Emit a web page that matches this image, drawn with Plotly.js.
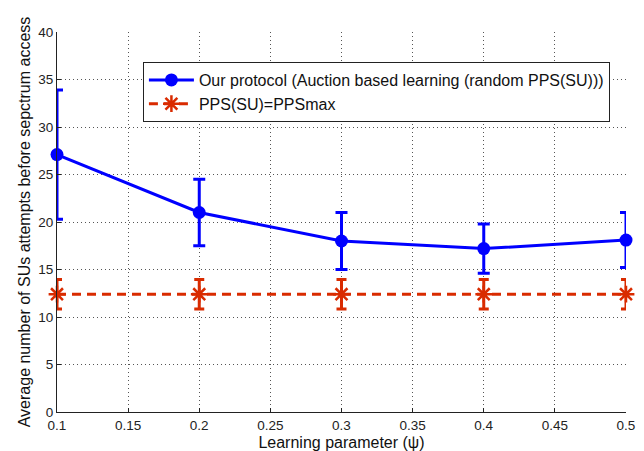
<!DOCTYPE html>
<html>
<head>
<meta charset="utf-8">
<script src="https://cdn.plot.ly/plotly-3.0.1.min.js"></script>
<style>
  html, body { margin: 0; padding: 0; background: #fff; }
  #chart { width: 644px; height: 451px; }
</style>
</head>
<body>
<div id="chart"></div>
<script>
// Learning parameter values (x axis)
const psi = [0.1, 0.2, 0.3, 0.4, 0.5];

// Auction based learning: mean attempts and error half-widths
const auctionMean = [27.1, 21.0, 18.0, 17.2, 18.1];
const auctionErr  = [6.8, 3.5, 3.0, 2.6, 2.9];

// Fixed PPS(SU)=PPSmax: mean attempts and error half-widths
const maxMean = [12.4, 12.4, 12.4, 12.4, 12.4];
const maxErr  = [1.55, 1.55, 1.55, 1.55, 1.55];

const xTicks = [0.1, 0.15, 0.2, 0.25, 0.3, 0.35, 0.4, 0.45, 0.5];
const xTickText = ['0.1', '0.15', '0.2', '0.25', '0.3', '0.35', '0.4', '0.45', '0.5'];
const yTicks = [0, 5, 10, 15, 20, 25, 30, 35, 40];

const BLUE = '#0000ff';
const RED = '#d92b00';
const FONT = 'Liberation Sans, Arial, sans-serif';

const traces = [
  {
    x: psi, y: auctionMean, type: 'scatter', mode: 'lines+markers',
    name: 'Our protocol (Auction based learning (random PPS(SU)))',
    line: { color: BLUE, width: 3 },
    marker: { color: BLUE, size: 13, symbol: 'circle' },
    error_y: { type: 'data', array: auctionErr, visible: true, color: BLUE, thickness: 3, width: 6 },
    cliponaxis: false
  },
  {
    x: psi, y: maxMean, type: 'scatter', mode: 'lines+markers',
    name: 'PPS(SU)=PPSmax',
    line: { color: RED, width: 3, dash: '9px,6px' },
    marker: { color: RED, size: 14, symbol: 'asterisk-open', line: { color: RED, width: 2.5 } },
    error_y: { type: 'data', array: maxErr, visible: true, color: RED, thickness: 3, width: 5 },
    cliponaxis: false
  }
];

const layout = {
  width: 644, height: 451,
  margin: { l: 57, r: 18, t: 32, b: 39 },
  paper_bgcolor: '#fff', plot_bgcolor: '#fff',
  font: { family: FONT, size: 13.5, color: '#222' },
  showlegend: true,
  legend: {
    x: 0.151, y: 0.921, xanchor: 'left', yanchor: 'top',
    bgcolor: '#fff', bordercolor: '#222', borderwidth: 1,
    font: { family: FONT, size: 16, color: '#111' },
    itemwidth: 45, tracegroupgap: 0
  },
  xaxis: {
    range: [0.1, 0.5], tickvals: xTicks, ticktext: xTickText,
    showline: true, linecolor: '#222', linewidth: 1, mirror: false,
    showgrid: true, gridcolor: '#555', griddash: '1px,3px', gridwidth: 1,
    ticks: 'inside', ticklen: 4, tickcolor: '#222',
    zeroline: false, ticklabelstandoff: 1,
    tickfont: { family: FONT, size: 13.5, color: '#222' },
    title: { text: 'Learning parameter (ψ)', standoff: 6, font: { family: FONT, size: 16, color: '#111' } }
  },
  yaxis: {
    range: [0, 40], tickvals: yTicks,
    showline: true, linecolor: '#222', linewidth: 1, mirror: false,
    showgrid: true, gridcolor: '#555', griddash: '1px,3px', gridwidth: 1,
    ticks: 'inside', ticklen: 4, tickcolor: '#222',
    zeroline: false,
    tickfont: { family: FONT, size: 13.5, color: '#222' },
    title: { text: 'Average number of SUs attempts before sepctrum access', standoff: 3, font: { family: FONT, size: 16, color: '#111' } }
  }
};

Plotly.newPlot('chart', traces, layout, { displayModeBar: false, staticPlot: true });
</script>
</body>
</html>
